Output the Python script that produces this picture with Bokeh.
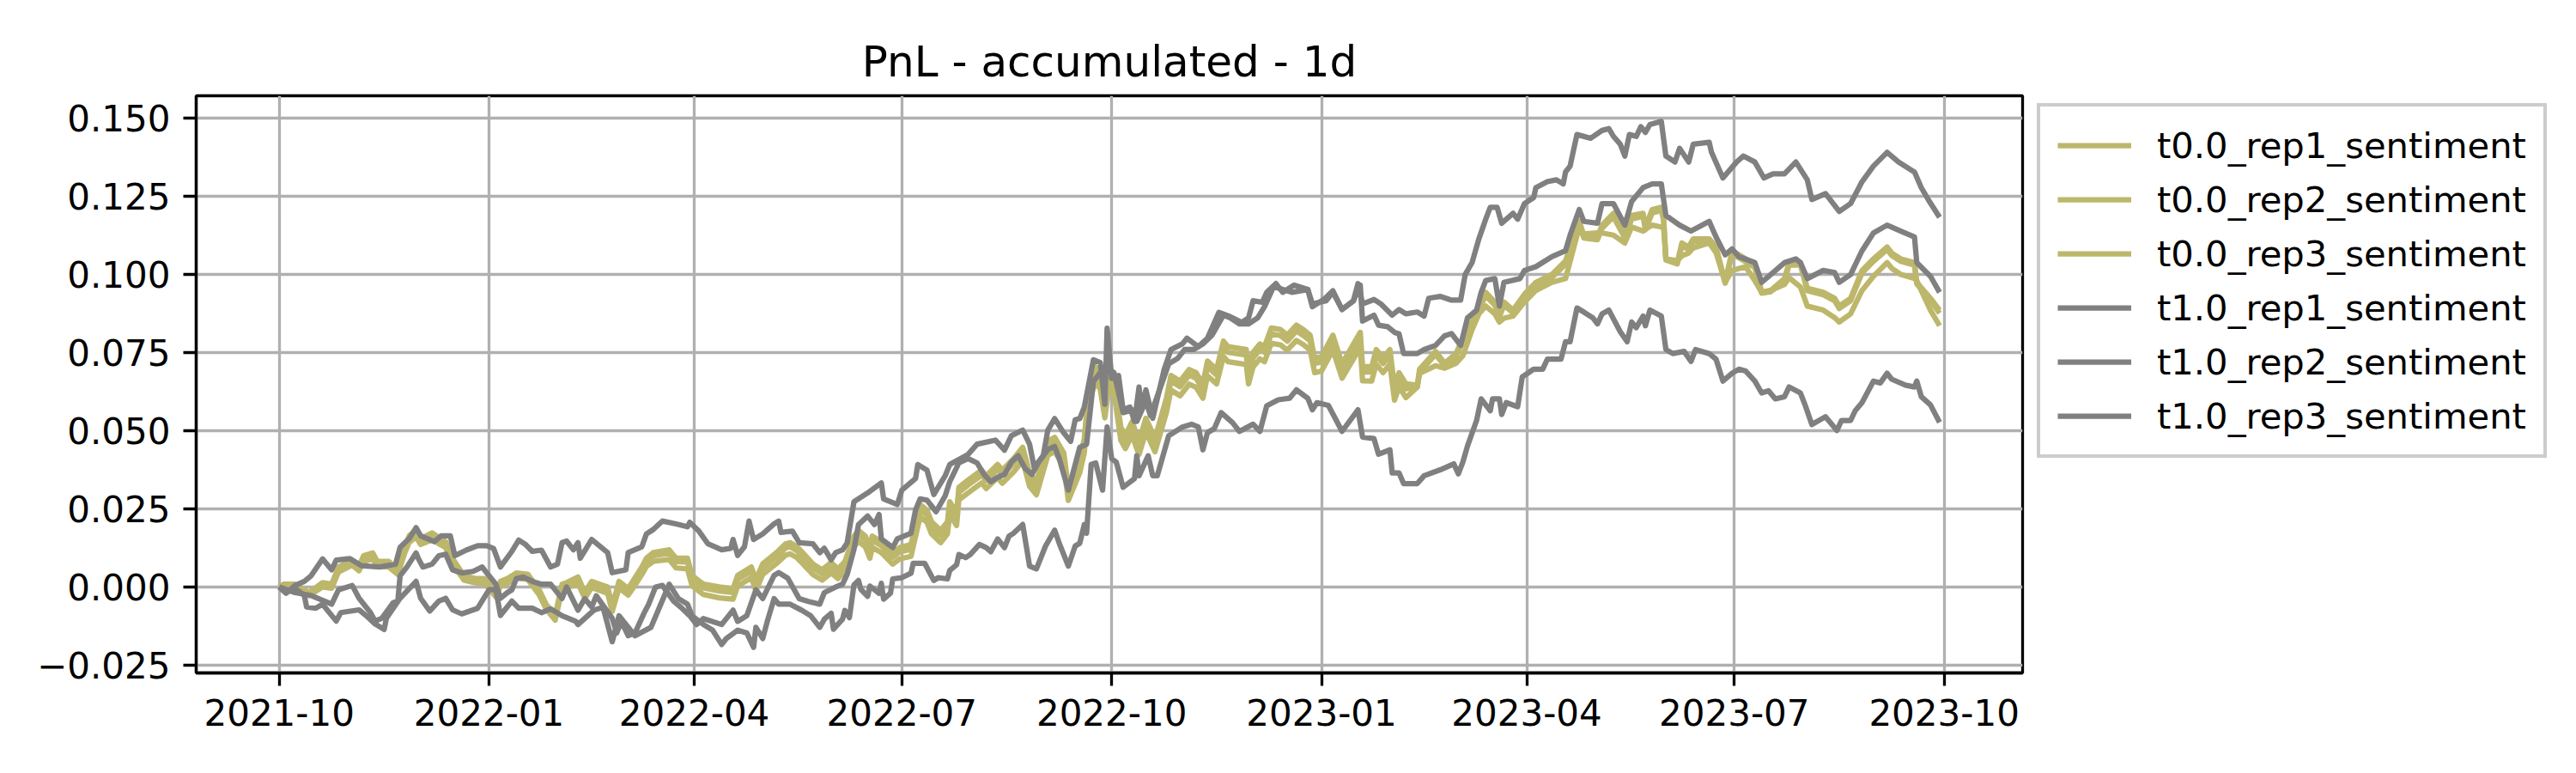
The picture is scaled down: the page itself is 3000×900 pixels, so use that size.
import pandas as pd
from bokeh.plotting import figure
from bokeh.models import (Range1d, FixedTicker, CustomJSTickFormatter, Legend,
                          LegendItem, ColumnDataSource)
from bokeh.embed import file_html
from bokeh.resources import INLINE

# ---------------- data (day offset from start_date, accumulated PnL) ----------------
title_text = "PnL - accumulated - 1d"
start_date = "2021-10-01"
series_names = ["t0.0_rep1_sentiment", "t0.0_rep2_sentiment", "t0.0_rep3_sentiment",
                "t1.0_rep1_sentiment", "t1.0_rep2_sentiment", "t1.0_rep3_sentiment"]
series_colors = ["#bdb76b", "#bdb76b", "#bdb76b", "#808080", "#808080", "#808080"]

x_tick_dates = ["2021-10-01", "2022-01-01", "2022-04-01", "2022-07-01", "2022-10-01",
                "2023-01-01", "2023-04-01", "2023-07-01", "2023-10-01"]
x_tick_labels = ["2021-10", "2022-01", "2022-04", "2022-07", "2022-10",
                 "2023-01", "2023-04", "2023-07", "2023-10"]
y_ticks = [-0.025, 0.0, 0.025, 0.05, 0.075, 0.1, 0.125, 0.15]
y_tick_labels = ["\u22120.025", "0.000", "0.025", "0.050", "0.075", "0.100", "0.125", "0.150"]

t0_rep1 = [
    (0, 0.0), (2, 0.0009), (7, 0.0009), (13, -0.0018), (19, 0.0014), (23, 0.0009), (26, 0.0064),
    (32, 0.0086), (35, 0.0068), (37, 0.0100), (41, 0.0109), (43, 0.0082), (48, 0.0082), (52, 0.0055),
    (55, 0.0127), (57, 0.0164), (60, 0.0182), (62, 0.0155), (67, 0.0173), (73, 0.0145), (76, 0.0091),
    (81, 0.0036), (86, 0.0027), (90, 0.0027), (92, 0.0009), (95, -0.0018), (97, 0.0018), (100, 0.0027),
    (104, 0.0045), (109, 0.0041), (114, -0.0009), (117, -0.0055), (121, -0.0091), (124, 0.0009),
    (126, 0.0014), (131, 0.0032), (134, -0.0018), (137, 0.0018), (144, 0.0), (146, -0.0060),
    (149, 0.0018), (153, -0.0005), (155, 0.0018), (159, 0.0064), (161, 0.0092), (164, 0.0110),
    (171, 0.0119), (174, 0.0092), (179, 0.0092), (181, 0.0037), (186, 0.0009), (193, 0.0),
    (199, -0.0005), (201, 0.0037), (207, 0.0064), (209, 0.0023), (212, 0.0074), (218, 0.0110),
    (222, 0.0138), (224, 0.0142), (227, 0.0129), (230, 0.0106), (234, 0.0074), (238, 0.0055),
    (242, 0.0078), (245, 0.0058), (248, 0.0081), (252, 0.0163), (254, 0.0181), (257, 0.0163),
    (259, 0.0126), (260, 0.0163), (264, 0.0145), (269, 0.0108), (272, 0.0126), (277, 0.0136),
    (281, 0.0264), (284, 0.0246), (286, 0.0209), (290, 0.0181), (293, 0.0209), (294, 0.0273),
    (297, 0.0237), (298, 0.0319), (302, 0.0342), (308, 0.0374), (310, 0.0356), (315, 0.0392),
    (317, 0.0374), (322, 0.0411), (326, 0.0447), (329, 0.0365), (332, 0.0337), (337, 0.0466),
    (340, 0.0479), (344, 0.0429), (346, 0.0319), (349, 0.0374), (351, 0.0411), (353, 0.0475),
    (355, 0.0640), (358, 0.0704), (360, 0.0677), (362, 0.0585), (364, 0.0695), (366, 0.0668),
    (369, 0.0512), (371, 0.0485), (374, 0.0530), (376, 0.0485), (377, 0.0466), (380, 0.0540),
    (384, 0.0476), (389, 0.0604), (391, 0.0677), (395, 0.0659), (399, 0.0696), (402, 0.0686),
    (405, 0.0650), (407, 0.0723), (411, 0.0696), (414, 0.0787), (416, 0.0769), (424, 0.0760),
    (425, 0.0696), (427, 0.0751), (430, 0.0778), (432, 0.0769), (435, 0.0829), (439, 0.0824),
    (442, 0.0806), (446, 0.0838), (449, 0.0824), (452, 0.0806), (454, 0.0732), (457, 0.0737),
    (462, 0.0806), (466, 0.0714), (474, 0.0815), (475, 0.0705), (479, 0.0705), (481, 0.0760),
    (484, 0.0732), (487, 0.0760), (489, 0.0641), (491, 0.0686), (494, 0.0650), (499, 0.0646),
    (500, 0.0697), (507, 0.0754), (511, 0.0716), (516, 0.0747), (519, 0.0798), (523, 0.0848),
    (526, 0.0899), (529, 0.0943), (533, 0.0912), (535, 0.0874), (537, 0.0912), (541, 0.0886),
    (546, 0.0937), (551, 0.0975), (558, 0.1000), (564, 0.1044), (570, 0.1170), (572, 0.1126),
    (578, 0.1120), (580, 0.1158), (585, 0.1196), (590, 0.1126), (593, 0.1189), (598, 0.1196),
    (599, 0.1152), (602, 0.1208), (606, 0.1215), (607, 0.1183), (608, 0.1050), (613, 0.1038),
    (615, 0.1101), (618, 0.1088), (620, 0.1114), (627, 0.1114), (630, 0.1088), (634, 0.0975),
    (637, 0.1076), (643, 0.1050), (647, 0.1032), (650, 0.0943), (654, 0.0949), (660, 0.0987),
    (662, 0.1038), (667, 0.1038), (670, 0.0956), (677, 0.0943), (682, 0.0924), (684, 0.0899),
    (689, 0.0924), (694, 0.1013), (699, 0.1050), (705, 0.1088), (707, 0.1069), (711, 0.1050),
    (717, 0.1038), (718, 0.0975), (724, 0.0924), (728, 0.0886),
]

t0_rep2 = [
    (0, 0.0), (2, 0.0005), (7, 0.0004), (13, -0.0022), (19, 0.0008), (23, 0.0004), (26, 0.0058),
    (32, 0.0080), (35, 0.0062), (37, 0.0093), (41, 0.0101), (43, 0.0076), (48, 0.0075), (52, 0.0050),
    (55, 0.0120), (57, 0.0156), (60, 0.0174), (62, 0.0148), (67, 0.0165), (73, 0.0138), (76, 0.0085),
    (81, 0.0031), (86, 0.0022), (90, 0.0021), (92, 0.0004), (95, -0.0023), (97, 0.0012), (100, 0.0021),
    (104, 0.0039), (109, 0.0035), (114, -0.0015), (117, -0.0060), (121, -0.0096), (124, 0.0003),
    (126, 0.0008), (131, 0.0025), (134, -0.0024), (137, 0.0011), (144, -0.0007), (146, -0.0066),
    (149, 0.0011), (153, -0.0012), (155, 0.0010), (159, 0.0056), (161, 0.0083), (164, 0.0100),
    (171, 0.0108), (174, 0.0081), (179, 0.0080), (181, 0.0025), (186, -0.0003), (193, -0.0013),
    (199, -0.0018), (201, 0.0024), (207, 0.0051), (209, 0.0010), (212, 0.0061), (218, 0.0097),
    (222, 0.0125), (224, 0.0129), (227, 0.0116), (230, 0.0093), (234, 0.0061), (238, 0.0043),
    (242, 0.0066), (245, 0.0047), (248, 0.0070), (252, 0.0150), (254, 0.0168), (257, 0.0150),
    (259, 0.0113), (260, 0.0150), (264, 0.0132), (269, 0.0095), (272, 0.0112), (277, 0.0121),
    (281, 0.0248), (284, 0.0230), (286, 0.0193), (290, 0.0165), (293, 0.0193), (294, 0.0257),
    (297, 0.0221), (298, 0.0303), (302, 0.0326), (308, 0.0358), (310, 0.0340), (315, 0.0376),
    (317, 0.0358), (322, 0.0395), (326, 0.0431), (329, 0.0349), (332, 0.0321), (337, 0.0449),
    (340, 0.0462), (344, 0.0412), (346, 0.0303), (349, 0.0357), (351, 0.0394), (353, 0.0458),
    (355, 0.0622), (358, 0.0686), (360, 0.0660), (362, 0.0568), (364, 0.0677), (366, 0.0651),
    (369, 0.0496), (371, 0.0469), (374, 0.0514), (376, 0.0469), (377, 0.0450), (380, 0.0523),
    (384, 0.0460), (389, 0.0587), (391, 0.0659), (395, 0.0641), (399, 0.0678), (402, 0.0668),
    (405, 0.0633), (407, 0.0705), (411, 0.0678), (414, 0.0768), (416, 0.0751), (424, 0.0742),
    (425, 0.0679), (427, 0.0733), (430, 0.0760), (432, 0.0751), (435, 0.0810), (439, 0.0805),
    (442, 0.0787), (446, 0.0819), (449, 0.0805), (452, 0.0788), (454, 0.0715), (457, 0.0720),
    (462, 0.0788), (466, 0.0697), (474, 0.0797), (475, 0.0688), (479, 0.0688), (481, 0.0742),
    (484, 0.0715), (487, 0.0742), (489, 0.0625), (491, 0.0669), (494, 0.0634), (499, 0.0640),
    (500, 0.0688), (507, 0.0744), (511, 0.0708), (516, 0.0737), (519, 0.0788), (523, 0.0838),
    (526, 0.0889), (529, 0.0932), (533, 0.0902), (535, 0.0865), (537, 0.0902), (541, 0.0877),
    (546, 0.0927), (551, 0.0965), (558, 0.0990), (564, 0.1033), (570, 0.1160), (572, 0.1117),
    (578, 0.1111), (580, 0.1148), (585, 0.1185), (590, 0.1117), (593, 0.1178), (598, 0.1186),
    (599, 0.1143), (602, 0.1197), (606, 0.1205), (607, 0.1174), (608, 0.1046), (613, 0.1034),
    (615, 0.1092), (618, 0.1080), (620, 0.1105), (627, 0.1105), (630, 0.1080), (634, 0.0972),
    (637, 0.1066), (643, 0.1041), (647, 0.1022), (650, 0.0940), (654, 0.0945), (660, 0.0978),
    (662, 0.1030), (667, 0.1030), (670, 0.0948), (677, 0.0935), (682, 0.0916), (684, 0.0891),
    (689, 0.0916), (694, 0.1005), (699, 0.1042), (705, 0.1080), (707, 0.1061), (711, 0.1042),
    (717, 0.1030), (718, 0.0970), (724, 0.0917), (728, 0.0876),
]

t0_rep3 = [
    (0, 0.0), (2, 0.0002), (7, -0.0003), (13, -0.0028), (19, 0.0), (23, -0.0004), (26, 0.0048),
    (32, 0.0070), (35, 0.0052), (37, 0.0082), (41, 0.0090), (43, 0.0066), (48, 0.0064), (52, 0.0040),
    (55, 0.0108), (57, 0.0143), (60, 0.0160), (62, 0.0136), (67, 0.0151), (73, 0.0126), (76, 0.0074),
    (81, 0.0022), (86, 0.0013), (90, 0.0011), (92, -0.0005), (95, -0.0032), (97, 0.0003), (100, 0.0011),
    (104, 0.0028), (109, 0.0024), (114, -0.0025), (117, -0.0070), (121, -0.0106), (124, -0.0008),
    (126, -0.0004), (131, 0.0012), (134, -0.0036), (137, -0.0002), (144, -0.0020), (146, -0.0078),
    (149, -0.0003), (153, -0.0026), (155, -0.0005), (159, 0.0040), (161, 0.0066), (164, 0.0082),
    (171, 0.0088), (174, 0.0061), (179, 0.0058), (181, 0.0004), (186, -0.0024), (193, -0.0035),
    (199, -0.0039), (201, 0.0003), (207, 0.0030), (209, -0.0012), (212, 0.0040), (218, 0.0075),
    (222, 0.0102), (224, 0.0106), (227, 0.0094), (230, 0.0071), (234, 0.0040), (238, 0.0022),
    (242, 0.0045), (245, 0.0027), (248, 0.0050), (252, 0.0128), (254, 0.0146), (257, 0.0128),
    (259, 0.0092), (260, 0.0127), (264, 0.0110), (269, 0.0073), (272, 0.0090), (277, 0.0098),
    (281, 0.0225), (284, 0.0207), (286, 0.0170), (290, 0.0142), (293, 0.0170), (294, 0.0233),
    (297, 0.0197), (298, 0.0279), (302, 0.0301), (308, 0.0333), (310, 0.0315), (315, 0.0350),
    (317, 0.0332), (322, 0.0368), (326, 0.0404), (329, 0.0322), (332, 0.0295), (337, 0.0421),
    (340, 0.0434), (344, 0.0385), (346, 0.0277), (349, 0.0330), (351, 0.0366), (353, 0.0430),
    (355, 0.0594), (358, 0.0657), (360, 0.0632), (362, 0.0541), (364, 0.0649), (366, 0.0623),
    (369, 0.0470), (371, 0.0443), (374, 0.0487), (376, 0.0442), (377, 0.0424), (380, 0.0496),
    (384, 0.0433), (389, 0.0559), (391, 0.0630), (395, 0.0612), (399, 0.0649), (402, 0.0639),
    (405, 0.0604), (407, 0.0676), (411, 0.0650), (414, 0.0738), (416, 0.0721), (424, 0.0712),
    (425, 0.0650), (427, 0.0704), (430, 0.0730), (432, 0.0721), (435, 0.0780), (439, 0.0775),
    (442, 0.0758), (446, 0.0789), (449, 0.0776), (452, 0.0758), (454, 0.0686), (457, 0.0691),
    (462, 0.0758), (466, 0.0668), (474, 0.0767), (475, 0.0660), (479, 0.0659), (481, 0.0713),
    (484, 0.0686), (487, 0.0713), (489, 0.0598), (491, 0.0641), (494, 0.0606), (499, 0.0640),
    (500, 0.0684), (507, 0.0708), (511, 0.0700), (516, 0.0716), (519, 0.0740), (523, 0.0823),
    (526, 0.0874), (529, 0.0899), (533, 0.0874), (535, 0.0848), (537, 0.0860), (541, 0.0867),
    (546, 0.0912), (551, 0.0949), (558, 0.0975), (564, 0.0987), (570, 0.1152), (572, 0.1130),
    (578, 0.1133), (580, 0.1133), (585, 0.1126), (590, 0.1101), (593, 0.1152), (598, 0.1139),
    (599, 0.1145), (602, 0.1158), (606, 0.1152), (607, 0.1150), (608, 0.1050), (613, 0.1044),
    (615, 0.1060), (618, 0.1069), (620, 0.1085), (627, 0.1101), (630, 0.1070), (634, 0.0975),
    (637, 0.1013), (643, 0.1025), (647, 0.0980), (650, 0.0943), (654, 0.0949), (660, 0.0968),
    (662, 0.0990), (667, 0.0960), (670, 0.0899), (677, 0.0886), (682, 0.0862), (684, 0.0848),
    (689, 0.0874), (694, 0.0949), (699, 0.0994), (705, 0.1038), (707, 0.1020), (711, 0.1000),
    (717, 0.0987), (718, 0.0980), (724, 0.0886), (728, 0.0836),
]

t1_rep1 = [
    (0, 0.0), (3, -0.0020), (7, 0.0005), (11, 0.0018), (14, 0.0036), (19, 0.0090), (23, 0.0055),
    (25, 0.0086), (31, 0.0091), (36, 0.0068), (44, 0.0064), (51, 0.0073), (53, 0.0127), (57, 0.0155),
    (60, 0.0190), (62, 0.0164), (68, 0.0145), (71, 0.0164), (75, 0.0164), (77, 0.0100), (82, 0.0118),
    (87, 0.0132), (91, 0.0132), (94, 0.0123), (97, 0.0064), (102, 0.0114), (105, 0.0150),
    (108, 0.0136), (111, 0.0114), (115, 0.0118), (119, 0.0064), (122, 0.0073), (124, 0.0142),
    (126, 0.0147), (129, 0.0119), (131, 0.0142), (132, 0.0092), (137, 0.0152), (144, 0.0110),
    (146, 0.0046), (152, 0.0055), (153, 0.0110), (159, 0.0129), (161, 0.0170), (164, 0.0184),
    (168, 0.0211), (174, 0.0202), (179, 0.0193), (180, 0.0207), (184, 0.0179), (188, 0.0138),
    (194, 0.0119), (198, 0.0124), (199, 0.0152), (201, 0.0101), (204, 0.0129), (206, 0.0211),
    (208, 0.0152), (212, 0.0170), (217, 0.0202), (219, 0.0211), (220, 0.0175), (225, 0.0179),
    (228, 0.0142), (234, 0.0138), (237, 0.0110), (239, 0.0124), (242, 0.0087), (244, 0.0110),
    (247, 0.0119), (249, 0.0141), (252, 0.0273), (258, 0.0301), (264, 0.0333), (265, 0.0282),
    (271, 0.0264), (273, 0.0310), (279, 0.0347), (280, 0.0392), (284, 0.0374), (287, 0.0296),
    (292, 0.0356), (294, 0.0392), (302, 0.0424), (306, 0.0457), (314, 0.0470), (318, 0.0438),
    (321, 0.0484), (326, 0.0502), (329, 0.0457), (331, 0.0383), (335, 0.0420), (337, 0.0502),
    (340, 0.0539), (344, 0.0493), (347, 0.0466), (349, 0.0535), (351, 0.0539), (353, 0.0576),
    (357, 0.0727), (360, 0.0718), (362, 0.0585), (363, 0.0828), (365, 0.0668), (368, 0.0677),
    (370, 0.0567), (373, 0.0576), (375, 0.0530), (377, 0.0640), (378, 0.0567), (380, 0.0631),
    (383, 0.0540), (388, 0.0696), (391, 0.0760), (396, 0.0778), (398, 0.0796), (403, 0.0769),
    (407, 0.0796), (412, 0.0879), (417, 0.0865), (422, 0.0847), (425, 0.0861), (427, 0.0916),
    (431, 0.0911), (433, 0.0943), (437, 0.0971), (440, 0.0943), (445, 0.0966), (451, 0.0952),
    (453, 0.0897), (458, 0.0920), (462, 0.0948), (466, 0.0888), (471, 0.0916), (473, 0.0971),
    (475, 0.0906), (480, 0.0920), (483, 0.0906), (488, 0.0870), (491, 0.0888), (494, 0.0874),
    (499, 0.0880), (502, 0.0867), (504, 0.0924), (509, 0.0930), (514, 0.0918), (518, 0.0918),
    (520, 0.1000), (523, 0.1038), (526, 0.1114), (529, 0.1177), (531, 0.1215), (534, 0.1215),
    (536, 0.1164), (541, 0.1196), (543, 0.1177), (546, 0.1227), (550, 0.1246), (551, 0.1278),
    (556, 0.1297), (560, 0.1303), (563, 0.1290), (564, 0.1328), (566, 0.1347), (569, 0.1448),
    (575, 0.1436), (580, 0.1461), (583, 0.1467), (585, 0.1442), (588, 0.1417), (590, 0.1379),
    (592, 0.1448), (595, 0.1442), (597, 0.1473), (599, 0.1455), (601, 0.1480), (606, 0.1490),
    (608, 0.1379), (612, 0.1360), (614, 0.1404), (618, 0.1360), (620, 0.1417), (627, 0.1423),
    (628, 0.1391), (633, 0.1309), (639, 0.1360), (642, 0.1379), (647, 0.1360), (651, 0.1309),
    (655, 0.1322), (660, 0.1322), (665, 0.1360), (670, 0.1303), (672, 0.1240), (678, 0.1259),
    (684, 0.1202), (689, 0.1227), (694, 0.1297), (699, 0.1347), (705, 0.1391), (710, 0.1360),
    (717, 0.1328), (720, 0.1278), (723, 0.1240), (728, 0.1183),
]

t1_rep2 = [
    (0, 0.0), (7, -0.0018), (14, -0.0027), (23, -0.0055), (26, -0.0009), (32, 0.0005), (35, -0.0036),
    (40, -0.0082), (42, -0.0109), (45, -0.0100), (50, -0.0050), (52, -0.0045), (53, 0.0036),
    (56, 0.0064), (60, 0.0109), (61, 0.0091), (63, 0.0064), (67, 0.0073), (70, 0.0100), (73, 0.0105),
    (76, 0.0055), (80, 0.0045), (85, 0.0050), (89, 0.0064), (91, 0.0045), (95, 0.0009), (97, -0.0036),
    (100, -0.0018), (102, -0.0009), (104, 0.0027), (107, 0.0032), (111, 0.0018), (115, 0.0009),
    (119, 0.0009), (124, -0.0037), (126, 0.0), (131, -0.0074), (134, -0.0037), (137, -0.0064),
    (139, -0.0028), (146, -0.0100), (148, -0.0147), (150, -0.0110), (153, -0.0156), (156, -0.0147),
    (160, -0.0083), (162, -0.0055), (165, 0.0), (168, 0.0005), (173, -0.0046), (176, -0.0064),
    (180, -0.0092), (183, -0.0120), (186, -0.0101), (194, -0.0120), (199, -0.0074), (201, -0.0110),
    (205, -0.0092), (209, -0.0009), (212, -0.0037), (217, 0.0037), (219, 0.0046), (223, 0.0028),
    (228, -0.0037), (232, -0.0046), (237, -0.0055), (239, -0.0018), (244, 0.0), (247, 0.0009),
    (249, 0.0040), (252, 0.0120), (254, 0.0200), (258, 0.0227), (261, 0.0200), (263, 0.0232),
    (264, 0.0154), (269, 0.0126), (271, 0.0154), (277, 0.0172), (279, 0.0246), (281, 0.0282),
    (284, 0.0278), (288, 0.0241), (292, 0.0292), (294, 0.0337), (298, 0.0397), (302, 0.0411),
    (306, 0.0397), (309, 0.0360), (312, 0.0337), (315, 0.0351), (318, 0.0360), (321, 0.0400),
    (324, 0.0420), (327, 0.0380), (330, 0.0360), (333, 0.0400), (337, 0.0440), (340, 0.0450),
    (342, 0.0411), (346, 0.0310), (349, 0.0392), (351, 0.0447), (354, 0.0457), (357, 0.0658),
    (360, 0.0686), (364, 0.0696), (366, 0.0686), (370, 0.0558), (374, 0.0567), (376, 0.0530),
    (380, 0.0595), (382, 0.0549), (386, 0.0631), (390, 0.0714), (394, 0.0732), (397, 0.0760),
    (401, 0.0760), (405, 0.0778), (409, 0.0806), (414, 0.0870), (417, 0.0861), (421, 0.0842),
    (425, 0.0842), (429, 0.0861), (432, 0.0897), (436, 0.0961), (444, 0.0943), (451, 0.0952),
    (453, 0.0906), (459, 0.0916), (462, 0.0943), (466, 0.0888), (471, 0.0916), (474, 0.0966),
    (475, 0.0851), (480, 0.0870), (482, 0.0838), (486, 0.0833), (489, 0.0815), (491, 0.0810),
    (493, 0.0747), (497, 0.0747), (499, 0.0747), (502, 0.0760), (507, 0.0773), (511, 0.0804),
    (514, 0.0811), (518, 0.0773), (521, 0.0861), (525, 0.0886), (527, 0.0943), (529, 0.0981),
    (533, 0.0987), (535, 0.0899), (537, 0.0975), (544, 0.0987), (546, 0.1013), (551, 0.1025),
    (558, 0.1057), (564, 0.1076), (566, 0.1126), (570, 0.1208), (572, 0.1170), (578, 0.1164),
    (580, 0.1227), (585, 0.1227), (590, 0.1158), (593, 0.1234), (598, 0.1278), (602, 0.1290),
    (606, 0.1290), (608, 0.1189), (614, 0.1158), (619, 0.1139), (627, 0.1170), (630, 0.1120),
    (634, 0.1063), (637, 0.1082), (640, 0.1057), (647, 0.1038), (650, 0.0975), (654, 0.1000),
    (660, 0.1038), (665, 0.1050), (667, 0.1038), (670, 0.0987), (677, 0.1013), (682, 0.1006),
    (684, 0.0975), (689, 0.1000), (694, 0.1076), (699, 0.1133), (705, 0.1158), (711, 0.1139),
    (717, 0.1120), (718, 0.1038), (724, 0.0994), (728, 0.0943),
]

t1_rep3 = [
    (0, 0.0), (3, -0.0018), (7, -0.0005), (11, -0.0027), (12, -0.0064), (16, -0.0068), (19, -0.0055),
    (25, -0.0109), (27, -0.0082), (35, -0.0073), (38, -0.0091), (42, -0.0118), (46, -0.0136),
    (47, -0.0100), (53, -0.0036), (60, 0.0018), (62, -0.0036), (66, -0.0077), (70, -0.0045),
    (73, -0.0036), (76, -0.0073), (80, -0.0086), (87, -0.0068), (92, -0.0009), (95, -0.0009),
    (97, -0.0091), (102, -0.0045), (105, -0.0068), (111, -0.0068), (115, -0.0082), (119, -0.0070),
    (124, -0.0092), (130, -0.0110), (131, -0.0120), (138, -0.0074), (142, -0.0065), (146, -0.0175),
    (149, -0.0092), (156, -0.0156), (163, -0.0129), (171, 0.0009), (175, -0.0037), (179, -0.0055),
    (181, -0.0092), (186, -0.0120), (190, -0.0138), (194, -0.0184), (196, -0.0165), (201, -0.0138),
    (205, -0.0147), (208, -0.0193), (209, -0.0129), (212, -0.0165), (214, -0.0110), (217, -0.0037),
    (219, -0.0055), (224, -0.0055), (229, -0.0074), (233, -0.0092), (237, -0.0129), (239, -0.0103),
    (242, -0.0084), (243, -0.0135), (247, -0.0103), (248, -0.0075), (250, -0.0098), (252, 0.0007),
    (254, 0.0021), (255, -0.0007), (258, -0.0030), (259, 0.0003), (263, -0.0020), (264, 0.0012),
    (265, -0.0039), (268, -0.0020), (269, 0.0026), (273, 0.0030), (277, 0.0044), (278, 0.0076),
    (283, 0.0076), (287, 0.0021), (289, 0.0030), (293, 0.0026), (294, 0.0053), (297, 0.0071),
    (298, 0.0104), (301, 0.0094), (303, 0.0104), (307, 0.0136), (310, 0.0126), (312, 0.0113),
    (315, 0.0154), (318, 0.0126), (320, 0.0163), (322, 0.0172), (326, 0.0200), (329, 0.0067),
    (332, 0.0058), (336, 0.0131), (340, 0.0182), (342, 0.0140), (346, 0.0067), (349, 0.0131),
    (351, 0.0140), (353, 0.0200), (354, 0.0172), (356, 0.0392), (358, 0.0397), (361, 0.0310),
    (363, 0.0512), (365, 0.0411), (367, 0.0400), (370, 0.0319), (375, 0.0347), (376, 0.0420),
    (377, 0.0356), (381, 0.0420), (383, 0.0356), (385, 0.0356), (390, 0.0484), (396, 0.0512),
    (400, 0.0521), (403, 0.0512), (405, 0.0439), (407, 0.0494), (410, 0.0507), (413, 0.0558),
    (418, 0.0526), (421, 0.0498), (427, 0.0521), (430, 0.0498), (433, 0.0580), (438, 0.0599),
    (443, 0.0604), (446, 0.0631), (451, 0.0604), (453, 0.0567), (455, 0.0590), (460, 0.0581),
    (463, 0.0540), (466, 0.0498), (473, 0.0567), (475, 0.0480), (480, 0.0475), (482, 0.0425),
    (487, 0.0439), (488, 0.0365), (491, 0.0365), (493, 0.0331), (495, 0.0331), (499, 0.0331),
    (502, 0.0356), (509, 0.0375), (515, 0.0394), (517, 0.0362), (519, 0.0400), (521, 0.0451),
    (525, 0.0533), (527, 0.0602), (531, 0.0564), (532, 0.0602), (535, 0.0602), (536, 0.0552),
    (538, 0.0590), (543, 0.0577), (545, 0.0672), (550, 0.0697), (554, 0.0697), (556, 0.0729),
    (562, 0.0729), (564, 0.0785), (566, 0.0785), (569, 0.0893), (572, 0.0880), (576, 0.0861),
    (578, 0.0842), (580, 0.0874), (583, 0.0886), (588, 0.0817), (591, 0.0785), (593, 0.0848),
    (595, 0.0830), (598, 0.0867), (599, 0.0836), (601, 0.0886), (606, 0.0867), (608, 0.0760),
    (611, 0.0747), (616, 0.0754), (619, 0.0722), (621, 0.0760), (627, 0.0747), (630, 0.0729),
    (633, 0.0659), (637, 0.0684), (640, 0.0697), (643, 0.0691), (647, 0.0659), (650, 0.0621),
    (653, 0.0628), (656, 0.0602), (660, 0.0609), (662, 0.0640), (667, 0.0621), (669, 0.0583),
    (672, 0.0520), (678, 0.0545), (683, 0.0501), (685, 0.0533), (689, 0.0533), (691, 0.0564),
    (694, 0.0590), (699, 0.0659), (702, 0.0653), (705, 0.0684), (707, 0.0665), (713, 0.0646),
    (717, 0.0640), (718, 0.0659), (720, 0.0609), (724, 0.0583), (728, 0.0527),
]

all_series = [t0_rep1, t0_rep2, t0_rep3, t1_rep1, t1_rep2, t1_rep3]

# ---------------- figure ----------------
start = pd.Timestamp(start_date)


def to_dates(days):
    return [start + pd.Timedelta(days=d) for d in days]


x_range = Range1d(start=start - pd.Timedelta(days=36.4), end=start + pd.Timedelta(days=764.4))
y_range = Range1d(start=-0.0275, end=0.1572)

p = figure(frame_width=2127, frame_height=672, x_axis_type="datetime",
           x_range=x_range, y_range=y_range,
           output_backend="svg", toolbar_location=None,
           min_border_left=228, min_border_right=0, min_border_top=111, min_border_bottom=101)

p.background_fill_color = "white"
p.border_fill_color = "white"
p.outline_line_color = "black"
p.outline_line_width = 3.3

p.title.text = title_text
p.title.align = "center"
p.title.text_font = "DejaVu Sans"
p.title.text_font_size = "50px"
p.title.text_font_style = "normal"
p.title.text_color = "black"
p.title.standoff = 22

x_tick_ms = [pd.Timestamp(d).timestamp() * 1000.0 for d in x_tick_dates]
p.xaxis.ticker = FixedTicker(ticks=x_tick_ms)
p.xgrid.ticker = FixedTicker(ticks=x_tick_ms)
p.yaxis.ticker = FixedTicker(ticks=y_ticks)
p.ygrid.ticker = FixedTicker(ticks=y_ticks)

lookup_js = """
let best = -1, bd = Infinity;
for (let i = 0; i < tick_vals.length; i++) {
  const d = Math.abs(tick_vals[i] - tick);
  if (d < bd) { bd = d; best = i; }
}
return best >= 0 ? tick_text[best] : "";
"""
p.xaxis.formatter = CustomJSTickFormatter(args=dict(tick_vals=x_tick_ms, tick_text=x_tick_labels),
                                          code=lookup_js)
p.yaxis.formatter = CustomJSTickFormatter(args=dict(tick_vals=y_ticks, tick_text=y_tick_labels),
                                          code=lookup_js)

for ax in (p.xaxis, p.yaxis):
    ax.axis_line_color = "black"
    ax.axis_line_width = 3.3
    ax.major_tick_line_color = "black"
    ax.major_tick_line_width = 3.3
    ax.major_tick_out = 15
    ax.major_tick_in = 0
    ax.minor_tick_out = 0
    ax.minor_tick_in = 0
    ax.major_label_text_font = "DejaVu Sans"
    ax.major_label_text_font_size = "42px"
    ax.major_label_text_color = "black"
    ax.major_label_standoff = 15

p.grid.grid_line_color = "#b0b0b0"
p.grid.grid_line_width = 3.3

items = []
for name, color, data in zip(series_names, series_colors, all_series):
    days = [d for d, _ in data]
    vals = [v for _, v in data]
    src = ColumnDataSource(dict(x=to_dates(days), y=vals))
    r = p.line(x="x", y="y", source=src, line_color=color, line_width=6.25, line_join="round")
    items.append(LegendItem(label=name, renderers=[r]))

legend = Legend(items=items, location=(17, 250), margin=0, padding=20, spacing=13,
                glyph_width=86, glyph_height=50, label_height=50, label_standoff=30,
                label_text_font="DejaVu Sans", label_text_font_size="41.7px",
                label_text_color="black",
                title_standoff=0, title_text_font_size="0px",
                border_line_color="#cccccc", border_line_width=4, border_line_alpha=1.0,
                background_fill_color="white", background_fill_alpha=0.8)
p.add_layout(legend, "right")

open("out.html", "w").write(file_html(p, INLINE))
